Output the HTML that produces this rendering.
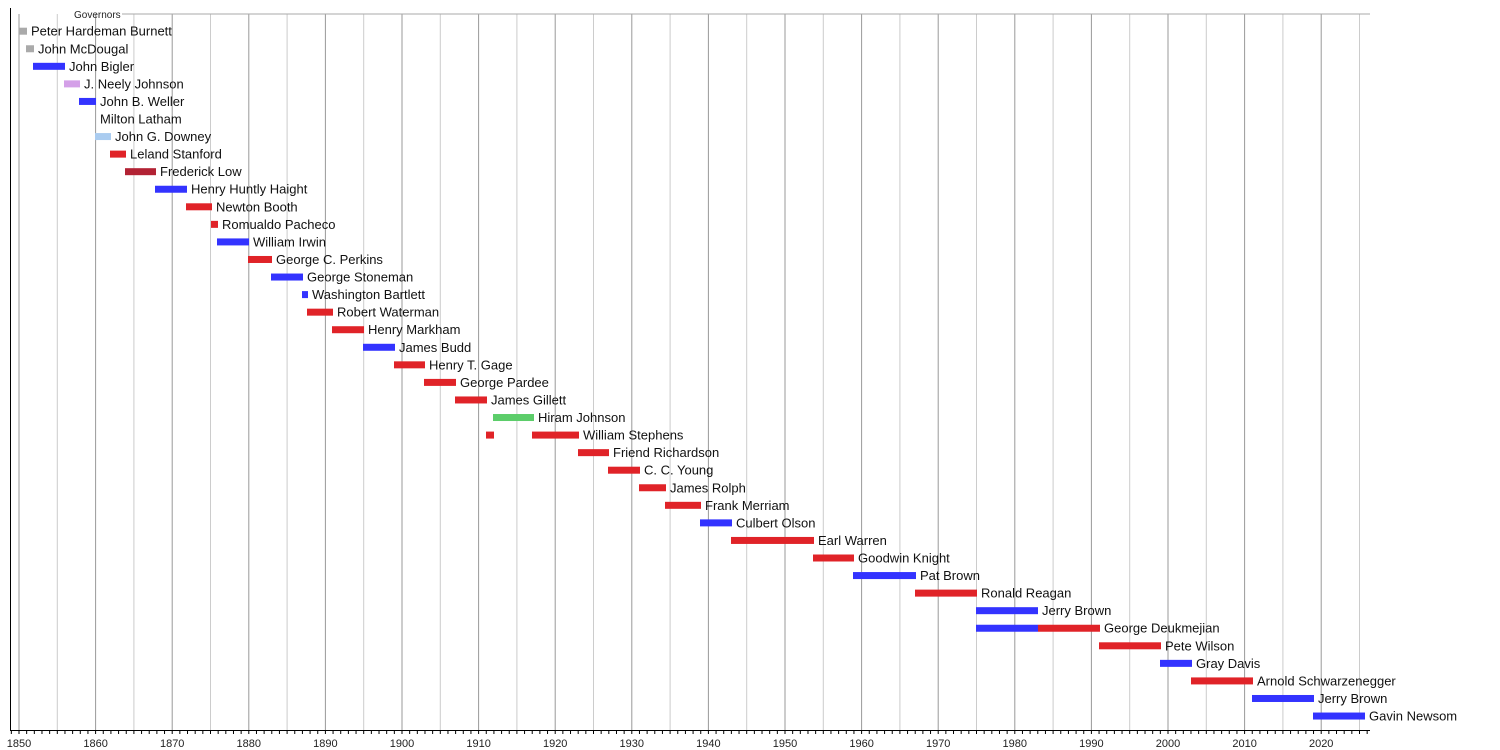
<!DOCTYPE html>
<html><head><meta charset="utf-8"><style>
html,body{margin:0;padding:0;background:#fff;}
svg{display:block;font-family:"Liberation Sans",sans-serif;}
</style></head><body>
<svg id="s" width="1500" height="750" xmlns="http://www.w3.org/2000/svg"></svg>
<script>
const s=document.getElementById('s');let h='';
const X=y=>19+(y-1850)*7.66;
for(let y=1850;y<=2025;y+=5){const x=X(y);h+=`<line x1="${x}" y1="14" x2="${x}" y2="730" stroke="${y%10==0?'#999':'#ccc'}" stroke-width="1"/>`;}
h+=`<line x1="122" y1="14" x2="1370" y2="14" stroke="#aaa"/>`;
h+=`<text x="74" y="18" font-size="10" fill="#222">Governors</text>`;
h+=`<line x1="10.5" y1="8" x2="10.5" y2="730" stroke="#000"/>`;
h+=`<line x1="10" y1="730.5" x2="1370" y2="730.5" stroke="#000"/>`;
for(let y=1849;y<=2026;y++){const x=X(y);h+=`<line x1="${x}" y1="730" x2="${x}" y2="734" stroke="#000"/>`;}
for(let y=1850;y<=2020;y+=10){h+=`<text x="${X(y)}" y="747" font-size="11" text-anchor="middle" fill="#222">${y}</text>`;}
const B='#3333ff',R='#e02328',G='#aaaaaa';
const d=[
["Peter Hardeman Burnett",[[19,27,G]]],
["John McDougal",[[26,34,G]]],
["John Bigler",[[33,65,B]]],
["J. Neely Johnson",[[64,80,'#d4a0e8']]],
["John B. Weller",[[79,96,B]]],
["Milton Latham",[[96,96,B]]],
["John G. Downey",[[95,111,'#aaccf0']]],
["Leland Stanford",[[110,126,R]]],
["Frederick Low",[[125,156,'#b22234']]],
["Henry Huntly Haight",[[155,187,B]]],
["Newton Booth",[[186,212,R]]],
["Romualdo Pacheco",[[211,218,R]]],
["William Irwin",[[217,249,B]]],
["George C. Perkins",[[248,272,R]]],
["George Stoneman",[[271,303,B]]],
["Washington Bartlett",[[302,308,B]]],
["Robert Waterman",[[307,333,R]]],
["Henry Markham",[[332,364,R]]],
["James Budd",[[363,395,B]]],
["Henry T. Gage",[[394,425,R]]],
["George Pardee",[[424,456,R]]],
["James Gillett",[[455,487,R]]],
["Hiram Johnson",[[493,534,'#5ccd6a']]],
["William Stephens",[[486,494,R],[532,579,R]]],
["Friend Richardson",[[578,609,R]]],
["C. C. Young",[[608,640,R]]],
["James Rolph",[[639,666,R]]],
["Frank Merriam",[[665,701,R]]],
["Culbert Olson",[[700,732,B]]],
["Earl Warren",[[731,814,R]]],
["Goodwin Knight",[[813,854,R]]],
["Pat Brown",[[853,916,B]]],
["Ronald Reagan",[[915,977,R]]],
["Jerry Brown",[[976,1038,B]]],
["George Deukmejian",[[976,1038,B],[1038,1100,R]]],
["Pete Wilson",[[1099,1161,R]]],
["Gray Davis",[[1160,1192,B]]],
["Arnold Schwarzenegger",[[1191,1253,R]]],
["Jerry Brown",[[1252,1314,B]]],
["Gavin Newsom",[[1313,1365,B]]]];
d.forEach((r,i)=>{const y=31.2+i*17.56;let e=0;
r[1].forEach(b=>{if(b[1]>b[0])h+=`<rect x="${b[0]}" y="${y-3.5}" width="${b[1]-b[0]}" height="7" fill="${b[2]}"/>`;e=Math.max(e,b[1]);});
h+=`<text x="${e+4}" y="${y+4.5}" font-size="13" fill="#111">${r[0]}</text>`;});
s.innerHTML=h;
</script>
</body></html>
